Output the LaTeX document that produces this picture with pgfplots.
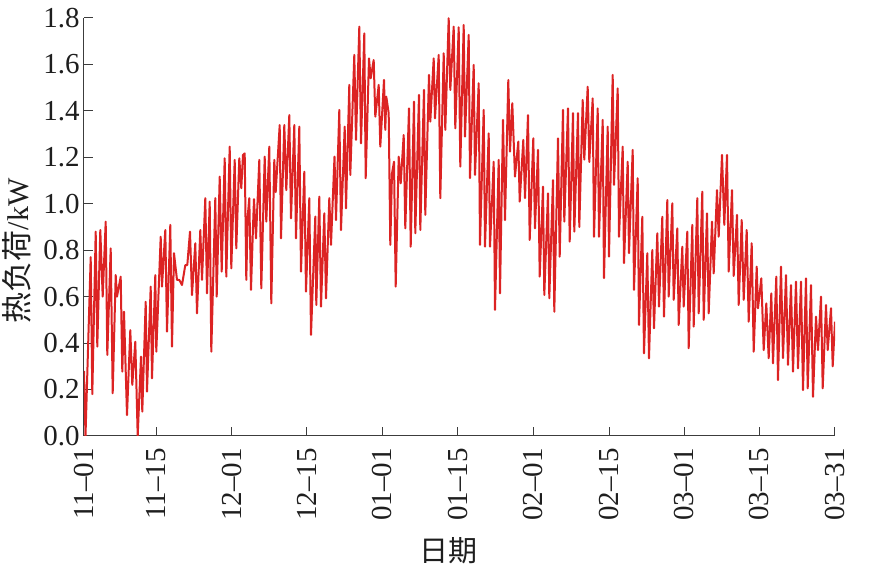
\documentclass[border=0pt]{standalone}
\usepackage{fontspec}
\setmainfont{Liberation Serif}
\newfontfamily\cjk{Noto Sans CJK SC}
\usepackage{pgfplots}
\pgfplotsset{compat=1.18}
\definecolor{linered}{RGB}{220,35,35}
\definecolor{axgray}{RGB}{60,60,60}
\definecolor{txt}{RGB}{30,30,30}
\begin{document}
\begin{tikzpicture}
\begin{axis}[
  at={(0,0)}, anchor=south west,
  scale only axis, width=375.5pt, height=209pt,
  xmin=84, xmax=835, ymin=0, ymax=1.8,
  axis x line*=bottom, axis y line*=left,
  axis line style={-, axgray, line width=0.5pt},
  tick align=inside, major tick length=4.5pt,
  tick style={axgray, line width=0.5pt},
  xtick={84,156.3,231.7,307,382.3,457.7,533.3,609,684.3,759.3,834.7},
  xticklabels={11–01,11–15,12–01,12–15,01–01,01–15,02–01,02–15,03–01,03–15,03–31},
  ytick={0,0.2,0.4,0.6,0.8,1.0,1.2,1.4,1.6,1.8},
  tick label style={font=\fontsize{14.5}{16}\selectfont, text=txt},
  xticklabel style={rotate=90, anchor=east, inner sep=0pt},
  xticklabel shift=6pt,
  yticklabel style={inner sep=0pt, /pgf/number format/fixed, /pgf/number format/fixed zerofill, /pgf/number format/precision=1, /pgf/number format/assume math mode=true},
  yticklabel shift=2pt,
  ylabel={{\cjk\fontsize{15.5}{16}\selectfont 热负荷}/kW},
  ylabel style={at={(axis description cs:-0.0892,0.443)}, anchor=center, font=\fontsize{15}{16}\selectfont, text=txt},
  xlabel={\cjk 日期},
  xlabel style={at={(axis description cs:0.485,-0.275)}, anchor=center, font=\fontsize{14.5}{16}\selectfont, text=txt},
]
\addplot[linered, line width=1.0pt, line join=round, mark=none] table {
x y
84.0 0.28
85.5 0.00
90.7 0.77
92.3 0.18
95.7 0.88
97.3 0.385
100.3 0.887
102.7 0.60
105.7 0.923
107.3 0.349
110.7 0.808
112.7 0.184
115.7 0.693
117.0 0.60
120.7 0.686
122.3 0.277
124.0 0.535
127.0 0.09
130.3 0.456
132.3 0.22
135.3 0.406
137.7 0.0
141.0 0.342
142.3 0.105
145.7 0.578
147.0 0.191
150.7 0.643
152.0 0.248
155.3 0.693
156.3 0.363
160.7 0.858
162.0 0.643
165.3 0.887
167.0 0.449
170.3 0.909
172.0 0.385
174.0 0.787
177.0 0.672
179.3 0.672
182.0 0.650
185.3 0.736
187.3 0.736
190.0 0.88
192.0 0.607
195.3 0.83
197.0 0.528
200.3 0.887
202.0 0.672
205.3 1.024
207.0 0.614
209.7 1.009
211.3 0.363
215.3 1.024
216.7 0.600
219.7 1.117
221.7 0.708
224.7 1.196
226.3 0.686
229.7 1.246
231.3 0.722
234.7 1.189
236.3 0.808
239.3 1.196
241.3 1.067
243.0 1.21
244.7 1.217
246.3 0.672
247.7 0.945
249.3 1.024
251.0 0.629
253.0 0.90
254.0 1.02
256.0 0.851
259.3 1.189
261.3 0.636
264.7 1.203
266.3 0.923
269.3 1.246
271.3 0.571
274.3 1.189
275.7 1.05
279.7 1.339
281.0 0.851
284.3 1.339
286.3 1.059
289.3 1.382
291.0 0.937
294.3 1.339
296.0 0.851
299.3 1.332
301.0 0.708
304.3 1.138
306.0 0.622
309.3 1.024
311.0 0.435
315.3 0.945
316.3 0.564
319.3 1.031
321.0 0.557
324.3 0.959
326.0 0.593
329.3 1.024
331.0 0.823
334.5 1.203
336.0 0.93
339.3 1.404
341.0 0.887
344.7 1.332
346.0 0.98
349.3 1.512
350.3 1.124
354.3 1.641
356.0 1.275
359.3 1.763
361.0 1.26
364.3 1.734
365.7 1.11
369.0 1.626
370.7 1.54
373.7 1.619
375.3 1.375
378.7 1.512
380.3 1.246
384.0 1.533
385.3 1.318
386.3 1.461
388.7 1.39
390.3 0.823
392.0 1.131
394.0 1.181
395.7 0.643
398.7 1.203
400.7 1.088
403.7 1.296
405.3 0.894
409.0 1.411
410.7 0.815
414.0 1.44
415.3 0.873
419.0 1.469
420.3 0.887
424.0 1.49
425.3 0.952
429.0 1.555
430.3 1.354
433.7 1.626
435.0 1.368
438.7 1.641
440.3 1.024
443.7 1.648
445.3 1.318
448.7 1.799
450.3 1.49
453.7 1.763
455.3 1.325
458.7 1.76
460.3 1.16
463.7 1.77
465.0 1.289
468.7 1.727
470.0 1.11
473.7 1.598
475.0 1.124
478.7 1.519
480.0 0.823
483.7 1.404
485.0 0.815
488.7 1.303
490.0 0.815
493.7 1.181
495.0 0.543
498.7 1.189
500.0 0.614
503.0 1.361
505.0 0.93
508.3 1.533
510.0 1.225
512.3 1.433
515.0 1.117
518.3 1.268
519.7 1.009
523.3 1.275
525.0 1.024
528.0 1.382
529.7 0.844
533.3 1.282
535.0 0.894
538.0 1.232
539.7 0.686
543.0 1.074
544.3 0.607
548.0 1.045
549.3 0.593
553.0 1.102
554.3 0.535
558.0 1.282
559.7 0.772
563.0 1.404
564.3 0.923
568.0 1.411
569.7 0.837
573.0 1.39
574.3 0.88
578.0 1.39
579.3 0.90
582.7 1.447
584.3 1.19
587.7 1.504
589.3 1.18
592.7 1.454
594.0 0.858
597.7 1.411
599.0 0.858
602.7 1.361
604.0 0.68
607.7 1.332
609.0 0.772
612.7 1.555
614.0 1.081
617.7 1.497
619.0 0.858
622.7 1.246
624.0 0.744
627.7 1.181
629.0 0.787
632.7 1.232
634.0 0.629
637.7 1.110
639.0 0.478
642.3 0.944
644.0 0.356
647.3 0.787
649.0 0.334
652.3 0.801
654.0 0.464
657.3 0.873
659.0 0.557
662.3 0.944
664.0 0.514
667.3 1.016
668.7 0.600
672.3 1.002
673.7 0.586
677.3 0.894
678.7 0.478
682.3 0.815
683.7 0.557
687.3 0.880
688.7 0.378
692.3 0.909
693.7 0.471
697.3 1.024
698.7 0.528
702.3 1.052
703.7 0.500
707.0 0.959
708.7 0.528
712.0 0.923
713.7 0.70
717.0 1.059
718.7 0.858
722.0 1.21
724.3 0.909
727.0 1.21
728.7 0.708
732.0 1.059
733.7 0.689
737.0 0.952
738.7 0.564
741.7 0.930
743.7 0.586
746.7 0.887
748.7 0.492
751.7 0.830
753.7 0.363
756.7 0.729
758.0 0.55
761.3 0.679
763.7 0.370
766.3 0.571
768.7 0.335
771.3 0.614
773.0 0.313
776.3 0.686
778.0 0.241
781.0 0.729
783.0 0.335
786.0 0.693
788.0 0.306
791.0 0.650
793.0 0.277
796.0 0.665
798.0 0.291
801.0 0.665
803.0 0.198
806.0 0.679
807.7 0.205
811.0 0.650
813.0 0.169
816.0 0.514
818.0 0.37
821.0 0.600
822.7 0.205
826.0 0.564
827.7 0.37
831.0 0.550
832.7 0.30
835.0 0.492
};
\end{axis}
\pgfresetboundingbox
\useasboundingbox (current axis.south west) ++(-42pt,-65pt) rectangle ++(437pt,283pt);
\end{tikzpicture}
\end{document}
